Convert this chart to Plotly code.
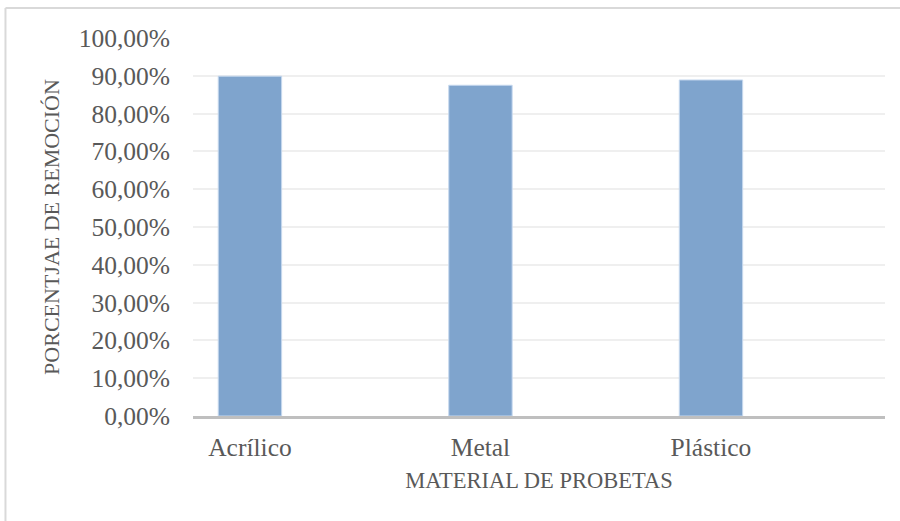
import plotly.graph_objects as go

# Removal percentage by specimen material
materiales = ["Acrílico", "Metal", "Plástico"]
remocion = [0.899, 0.875, 0.889]

y_ticks = [0.0, 0.1, 0.2, 0.3, 0.4, 0.5, 0.6, 0.7, 0.8, 0.9, 1.0]

font_family = "Liberation Serif"
text_color = "#595959"

fig = go.Figure(
    go.Bar(
        x=list(range(len(materiales))),
        y=remocion,
        width=0.275,
        marker=dict(color="#7fa4cd", line=dict(color="#c6d8ee", width=1)),
        hoverinfo="y",
    )
)

fig.update_layout(
    width=900,
    height=521,
    margin=dict(l=193, r=15, t=38, b=105),
    paper_bgcolor="white",
    plot_bgcolor="white",
    separators=",.",
    showlegend=False,
    font=dict(family=font_family, color=text_color, size=22),
    xaxis=dict(
        range=[-0.247, 2.755],
        tickmode="array",
        tickvals=list(range(len(materiales))),
        ticktext=materiales,
        tickfont=dict(size=25.5, color=text_color),
        showgrid=False,
        showline=True,
        linecolor="#bfbfbf",
        linewidth=3,
        ticks="",
        ticklabelstandoff=6,
        title=dict(text="MATERIAL DE PROBETAS", font=dict(size=22.5, color=text_color), standoff=12),
        zeroline=False,
    ),
    yaxis=dict(
        range=[0, 1.0],
        tickmode="array",
        tickvals=y_ticks,
        tickformat=".2%",
        tickfont=dict(size=25.5, color=text_color),
        showgrid=True,
        gridcolor="#efefef",
        gridwidth=2,
        showline=False,
        zeroline=False,
        ticks="",
        ticklabelstandoff=22,
        title=dict(text="PORCENTJAE DE REMOCIÓN", font=dict(size=22, color=text_color), standoff=12),
    ),
    shapes=[
        # light frame around the chart area (top and left edges)
        dict(type="line", xref="paper", yref="paper", x0=-0.271, x1=1.03, y0=1.0795, y1=1.0795,
             line=dict(color="#d9d9d9", width=2)),
        dict(type="line", xref="paper", yref="paper", x0=-0.271, x1=-0.271, y0=1.0795, y1=-0.30,
             line=dict(color="#d9d9d9", width=2)),
    ],
)

fig.write_html("out.html")
